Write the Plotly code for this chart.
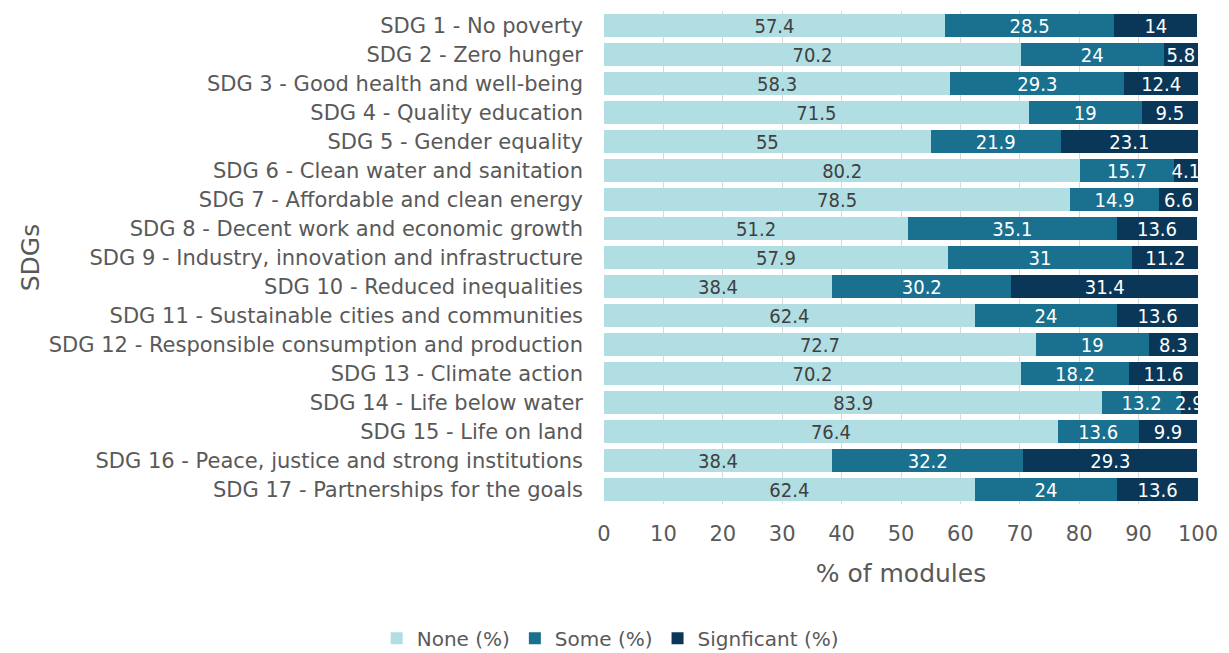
import plotly.graph_objects as go

sdgs = [
    "SDG 1 - No poverty",
    "SDG 2 - Zero hunger",
    "SDG 3 - Good health and well-being",
    "SDG 4 - Quality education",
    "SDG 5 - Gender equality",
    "SDG 6 - Clean water and sanitation",
    "SDG 7 - Affordable and clean energy",
    "SDG 8 - Decent work and economic growth",
    "SDG 9 - Industry, innovation and infrastructure",
    "SDG 10 - Reduced inequalities",
    "SDG 11 - Sustainable cities and communities",
    "SDG 12 - Responsible consumption and production",
    "SDG 13 - Climate action",
    "SDG 14 - Life below water",
    "SDG 15 - Life on land",
    "SDG 16 - Peace, justice and strong institutions",
    "SDG 17 - Partnerships for the goals",
]
none_pct = [57.4, 70.2, 58.3, 71.5, 55, 80.2, 78.5, 51.2, 57.9, 38.4, 62.4, 72.7, 70.2, 83.9, 76.4, 38.4, 62.4]
some_pct = [28.5, 24, 29.3, 19, 21.9, 15.7, 14.9, 35.1, 31, 30.2, 24, 19, 18.2, 13.2, 13.6, 32.2, 24]
sig_pct = [14, 5.8, 12.4, 9.5, 23.1, 4.1, 6.6, 13.6, 11.2, 31.4, 13.6, 8.3, 11.6, 2.9, 9.9, 29.3, 13.6]

font = "DejaVu Sans, sans-serif"
grey = "#595959"

series = [
    ("None (%)", none_pct, "#B0DEE3", "#404040"),
    ("Some (%)", some_pct, "#1A708F", "white"),
    ("Signficant (%)", sig_pct, "#0A3758", "white"),
]

fig = go.Figure()
for name, vals, col, txtcol in series:
    fig.add_trace(go.Bar(
        y=sdgs, x=vals, name=name, orientation="h",
        marker=dict(color=col, line=dict(width=0)),
        text=[f"{v:g}" for v in vals],
        textposition="inside", insidetextanchor="middle", textangle=0,
        textfont=dict(color=txtcol, size=20, family="DejaVu Sans Condensed, DejaVu Sans"),
        cliponaxis=True,
    ))

# page body has an 8px margin, margins below compensate for it
fig.update_layout(
    barmode="stack",
    bargap=0.2,
    width=1229, height=653,
    margin=dict(l=596, r=39, t=3, b=157),
    plot_bgcolor="white", paper_bgcolor="white",
    font=dict(family=font, size=21, color=grey),
    uniformtext=dict(minsize=20, mode="show"),
    legend=dict(orientation="h", x=0.49, xanchor="center", xref="container",
                y=0.005, yanchor="bottom", yref="container",
                font=dict(size=20, color=grey), traceorder="normal"),
    xaxis=dict(range=[0, 100], dtick=10, showgrid=True, gridcolor="#D9D9D9", gridwidth=1,
               zeroline=False, showline=False, ticks="", ticklabelstandoff=15,
               title=dict(text="% of modules", standoff=19)),
    yaxis=dict(autorange="reversed", ticks="", showline=False, ticklabelstandoff=20,
               title=dict(text="SDGs", standoff=2)),
)

fig.write_html("out.html")
